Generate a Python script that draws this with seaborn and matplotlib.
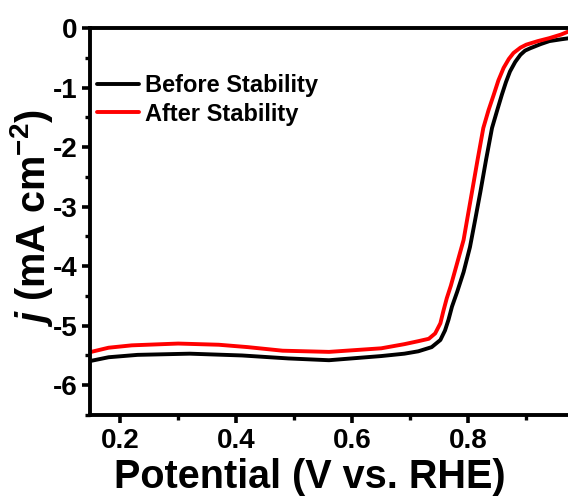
import numpy as np
import pandas as pd
import matplotlib
matplotlib.use("Agg")
import matplotlib.pyplot as plt
import seaborn as sns
from matplotlib.ticker import MultipleLocator, FormatStrFormatter

# Data
before_x = [0.15, 0.18, 0.23, 0.32, 0.41, 0.49, 0.56, 0.65, 0.69, 0.714, 0.737, 0.752, 0.760,
            0.766, 0.772, 0.781, 0.792, 0.803, 0.812, 0.821, 0.831, 0.841, 0.85, 0.858, 0.865,
            0.872, 0.881, 0.89, 0.898, 0.907, 0.925, 0.94, 0.96, 0.975]
before_y = [-5.59, -5.53, -5.49, -5.47, -5.50, -5.55, -5.58, -5.51, -5.47, -5.43, -5.36, -5.24, -5.08,
            -4.90, -4.68, -4.43, -4.10, -3.68, -3.22, -2.75, -2.20, -1.68, -1.38, -1.12, -0.91,
            -0.73, -0.57, -0.45, -0.38, -0.34, -0.27, -0.22, -0.19, -0.17]
after_x = [0.15, 0.18, 0.22, 0.30, 0.37, 0.42, 0.48, 0.56, 0.65, 0.69, 0.714, 0.732, 0.743, 0.752,
           0.757, 0.763, 0.770, 0.780, 0.792, 0.806, 0.816, 0.826, 0.835, 0.844, 0.852, 0.861,
           0.870, 0.878, 0.89, 0.90, 0.92, 0.94, 0.96, 0.975]
after_y = [-5.44, -5.37, -5.33, -5.30, -5.32, -5.36, -5.42, -5.44, -5.38, -5.31, -5.26, -5.22, -5.13, -4.96,
           -4.76, -4.54, -4.33, -3.98, -3.56, -2.78, -2.22, -1.68, -1.38, -1.12, -0.88, -0.67,
           -0.52, -0.42, -0.33, -0.28, -0.22, -0.17, -0.11, -0.05]
series_names = ["Before Stability", "After Stability"]
series_colors = ["#000000", "#ff0000"]

df = pd.concat([
    pd.DataFrame({"x": before_x, "y": before_y, "s": series_names[0]}),
    pd.DataFrame({"x": after_x, "y": after_y, "s": series_names[1]}),
], ignore_index=True)

sns.set_style("ticks")
plt.rcParams["font.family"] = ["Liberation Sans", "DejaVu Sans"]
plt.rcParams["font.weight"] = "bold"
plt.rcParams["axes.unicode_minus"] = False
plt.rcParams["mathtext.fontset"] = "custom"
plt.rcParams["mathtext.rm"] = "Liberation Sans:bold"
plt.rcParams["mathtext.it"] = "Liberation Sans:italic:bold"
plt.rcParams["mathtext.bf"] = "Liberation Sans:bold"
for k in ["text.color", "axes.labelcolor", "xtick.color", "ytick.color", "axes.edgecolor"]:
    plt.rcParams[k] = "black"

fig = plt.figure(figsize=(5.68, 5.04), dpi=100)
ax = fig.add_axes([90/568, 1-415/504, 1-90/568, (415-28)/504])

sns.lineplot(data=df, x="x", y="y", hue="s", palette=dict(zip(series_names, series_colors)),
             estimator=None, sort=False, linewidth=2.8, ax=ax)

ax.set_xlim(0.148, 0.972)
ax.set_ylim(-6.5, 0)
ax.xaxis.set_major_locator(MultipleLocator(0.2))
ax.xaxis.set_minor_locator(MultipleLocator(0.1))
ax.yaxis.set_major_locator(MultipleLocator(1))
ax.yaxis.set_minor_locator(MultipleLocator(0.5))
ax.xaxis.set_major_formatter(FormatStrFormatter("%.1f"))
ax.yaxis.set_major_formatter(FormatStrFormatter("%d"))

for side in ["left", "bottom", "top"]:
    ax.spines[side].set_linewidth(2.8)
ax.spines["right"].set_visible(False)
ax.tick_params(axis="both", which="major", direction="out", length=6, width=2.6,
               labelsize=20, pad=3)
ax.tick_params(axis="both", which="minor", direction="out", length=3.5, width=2.4)
ax.tick_params(top=False, right=False, which="both")
for lbl in ax.get_xticklabels() + ax.get_yticklabels():
    lbl.set_fontweight("bold")

ax.set_xlabel("Potential (V vs. RHE)", fontsize=28.5, fontweight="bold")
ax.xaxis.set_label_coords(0.46, -0.11)
ax.set_ylabel(r"$\mathit{j}$ (mA cm$^{-2}$)", fontsize=28.5, fontweight="bold")
ax.yaxis.set_label_coords(-0.074, 0.51)

leg = ax.legend(loc="upper left", bbox_to_anchor=(0.014, 0.88), frameon=False,
                fontsize=17, handlelength=1.8, handletextpad=0.25, labelspacing=0.22,
                borderaxespad=0, borderpad=0)
for t in leg.get_texts():
    t.set_fontweight("bold")
for h in leg.get_lines():
    h.set_linewidth(2.8)

fig.savefig("out.png", dpi=100)
